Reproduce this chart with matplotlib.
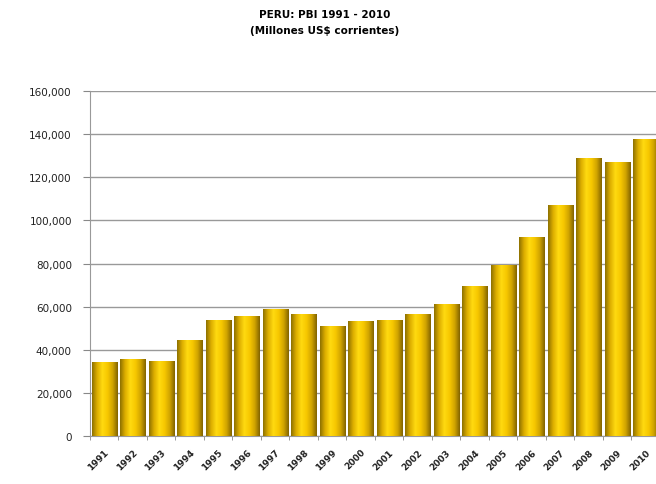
import matplotlib
matplotlib.use("Agg")
import matplotlib.pyplot as plt
import numpy as np
from matplotlib.colors import LinearSegmentedColormap

# datos
anios = ['1991','1992','1993','1994','1995','1996','1997','1998','1999','2000',
         '2001','2002','2003','2004','2005','2006','2007','2008','2009','2010']
pbi = [34500, 35800, 34800, 44600, 53800, 55900, 59000, 56800, 51000, 53300,
       53900, 56800, 61300, 69800, 79400, 92300, 107300, 129000, 127000, 137800]
yticks = [0, 20000, 40000, 60000, 80000, 100000, 120000, 140000, 160000]
ylabels = ['0', '20,000', '40,000', '60,000', '80,000', '100,000', '120,000', '140,000', '160,000']

fig = plt.figure(figsize=(6.56, 4.85), dpi=100)
ax = fig.add_axes([0.137, 0.099, 0.869, 0.711])

x = np.arange(len(anios))
bars = ax.bar(x, pbi, width=0.88, color='#F2C500', zorder=2)

# degradado tipo cilindro
cmap = LinearSegmentedColormap.from_list('oro', ['#8C7000', '#DDAE00', '#FFDA10', '#F7C800', '#D0A400', '#806200'])
grad = np.linspace(0, 1, 256).reshape(1, -1)
for b in bars:
    x0 = b.get_x(); w = b.get_width(); h = b.get_height()
    im = ax.imshow(grad, cmap=cmap, aspect='auto', extent=[x0, x0 + w, 0, h], zorder=3)
    im.set_clip_path(b)

ax.set_xlim(-0.5, len(anios) - 0.5)
ax.set_ylim(0, 160000)
ax.set_yticks(yticks)
ax.set_yticklabels(ylabels, fontsize=7.5, color='#222222')
ax.set_xticks(x)
ax.set_xticklabels(anios, rotation=45, ha='right', va='top', fontsize=6.5, fontweight='bold',
                   rotation_mode='anchor', color='#222222')
ax.set_xticks(np.arange(-0.5, len(anios)), minor=True)
ax.tick_params(axis='x', which='major', length=0, pad=8)
ax.tick_params(axis='x', which='minor', length=3, color='#888888')
ax.tick_params(axis='y', length=5, color='#888888', pad=8)

ax.yaxis.grid(True, color='#999999', linewidth=1.0, zorder=0)
ax.set_axisbelow(True)
for s in ['top', 'right']:
    ax.spines[s].set_visible(False)
ax.spines['left'].set_color('#999999')
ax.spines['bottom'].set_color('#999999')

fig.text(0.495, 0.969, 'PERU: PBI 1991 - 2010', ha='center', va='center', fontsize=7.5, fontweight='bold')
fig.text(0.495, 0.936, '(Millones US$ corrientes)', ha='center', va='center', fontsize=7.5, fontweight='bold')

fig.savefig('out.png', dpi=100)
